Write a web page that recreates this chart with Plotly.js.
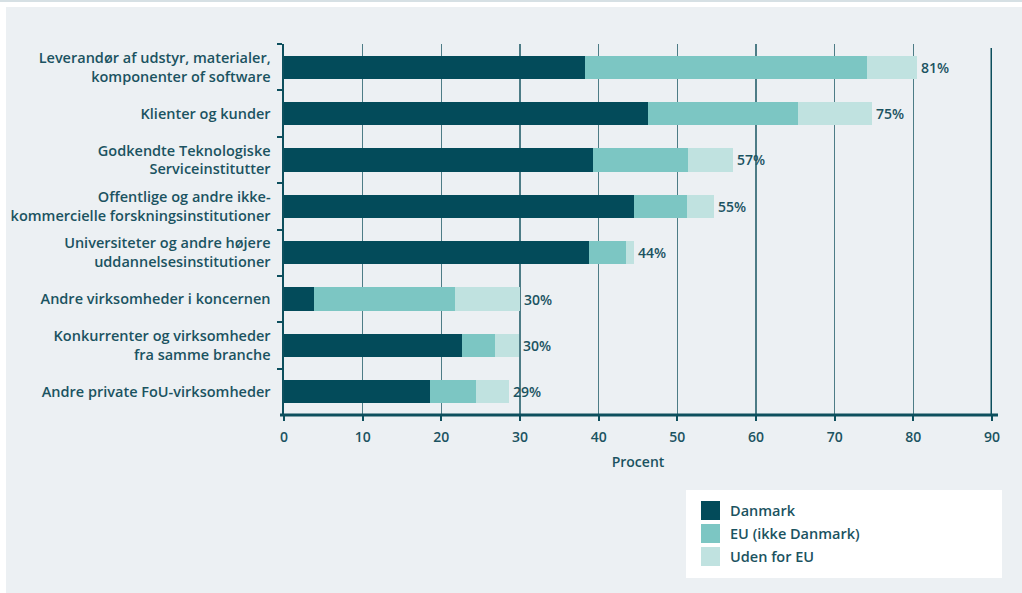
<!DOCTYPE html>
<html>
<head>
<meta charset="utf-8">
<script src="https://cdn.plot.ly/plotly-3.0.1.min.js"></script>
<style>
  html, body { margin: 0; padding: 0; background: #ffffff; width: 1022px; height: 593px; overflow: hidden; }
  #topline { position: absolute; left: 0; top: 0; width: 1022px; height: 2px; background: #d6e0e4; }
  #chart { position: absolute; left: 6px; top: 7px; width: 1016px; height: 586px; }
</style>
</head>
<body>
<div id="topline"></div>
<div id="chart"></div>
<script>
// ---- data ----
const categories = [
  "Leverandør af udstyr, materialer,<br>komponenter of software",
  "Klienter og kunder",
  "Godkendte Teknologiske<br>Serviceinstitutter",
  "Offentlige og andre ikke-<br>kommercielle forskningsinstitutioner",
  "Universiteter og andre højere<br>uddannelsesinstitutioner",
  "Andre virksomheder i koncernen",
  "Konkurrenter og virksomheder<br>fra samme branche",
  "Andre private FoU-virksomheder"
];
const seriesNames = ["Danmark", "EU (ikke Danmark)", "Uden for EU"];
const danmark = [38.2, 46.3, 39.3, 44.5, 38.8, 3.8, 22.6, 18.6];
const euIkkeDanmark = [35.9, 19.1, 12.0, 6.7, 4.7, 17.9, 4.2, 5.8];
const udenforEU = [6.4, 9.3, 5.8, 3.4, 1.0, 8.3, 3.1, 4.2];
const totalLabels = ["81%", "75%", "57%", "55%", "44%", "30%", "30%", "29%"];
const xTickVals = [0, 10, 20, 30, 40, 50, 60, 70, 80, 90];
const xAxisTitle = "Procent";

// ---- styling ----
const colors = ["#034b5a", "#7cc6c3", "#c0e2e0"];
const textColor = "#1b5361";
const lineColor = "#0d4f5d";
const fontFamily = "'Open Sans', Roboto, sans-serif";
const txtFont = { family: fontFamily, size: 14, color: textColor, weight: 600 };
const catFont = { family: fontFamily, size: 14.5, color: textColor, weight: 600 };

const W = 1016, H = 586;
const M = { l: 278, r: 30, t: 37, b: 178 };
const plotW = W - M.l - M.r, plotH = H - M.t - M.b;
const px = x => (x - M.l) / plotW;
const py = y => (H - M.b - y) / plotH;

const seriesVals = [danmark, euIkkeDanmark, udenforEU];
const traces = seriesVals.map((vals, i) => ({
  type: "bar",
  orientation: "h",
  name: seriesNames[i],
  y: categories,
  x: vals,
  marker: { color: colors[i], line: { width: 0 } },
  hoverinfo: "x+name",
  showlegend: false
}));

const totals = categories.map((_, i) => danmark[i] + euIkkeDanmark[i] + udenforEU[i]);

const shapes = [];
const annotations = [];

// total labels at bar ends
categories.forEach((c, i) => {
  annotations.push({
    xref: "x", yref: "y", x: totals[i], y: c,
    xanchor: "left", yanchor: "middle", xshift: 2,
    text: totalLabels[i], showarrow: false,
    font: txtFont
  });
});

// thick line at 90
shapes.push({
  type: "line", xref: "x", yref: "paper",
  x0: 90, x1: 90, y0: 0, y1: py(41),
  line: { color: lineColor, width: 3 }
});
// x axis line, extends a bit past plot area
shapes.push({
  type: "line", xref: "paper", yref: "paper",
  x0: px(274), x1: px(992), y0: 0, y1: 0,
  line: { color: lineColor, width: 3 }
});

// legend box
shapes.push({
  type: "rect", xref: "paper", yref: "paper",
  x0: px(680), x1: px(996), y0: py(483), y1: py(571),
  fillcolor: "#ffffff", line: { width: 0 }, layer: "below"
});
const legendTops = [494, 517, 540];
seriesNames.forEach((name, i) => {
  const top = legendTops[i];
  shapes.push({
    type: "rect", xref: "paper", yref: "paper",
    x0: px(695), x1: px(714), y0: py(top + 19), y1: py(top),
    fillcolor: colors[i], line: { width: 0 }
  });
  annotations.push({
    xref: "paper", yref: "paper",
    x: px(722), y: py(top + 9.5),
    xanchor: "left", yanchor: "middle",
    text: name, showarrow: false,
    font: catFont
  });
});

const layout = {
  width: W, height: H,
  margin: M,
  paper_bgcolor: "#ecf0f3",
  plot_bgcolor: "#ecf0f3",
  barmode: "stack",
  bargap: 0.5,
  showlegend: false,
  font: txtFont,
  xaxis: {
    range: [0, 90],
    tickvals: xTickVals,
    ticks: "outside", ticklen: 5, tickwidth: 2, tickcolor: lineColor,
    showline: false,
    showgrid: true, gridcolor: "#4d7c86", gridwidth: 1.5,
    zeroline: false,
    ticklabelstandoff: 4,
    tickfont: txtFont,
    title: { text: xAxisTitle, standoff: 12, font: txtFont },
    automargin: false,
    fixedrange: true
  },
  yaxis: {
    type: "category",
    autorange: "reversed",
    tickson: "boundaries",
    ticks: "outside", ticklen: 5, tickwidth: 2, tickcolor: lineColor,
    showline: true, linecolor: lineColor, linewidth: 2.5,
    showgrid: false, zeroline: false,
    ticklabelstandoff: 8,
    tickfont: catFont,
    automargin: false,
    fixedrange: true
  },
  shapes: shapes,
  annotations: annotations
};

Plotly.newPlot("chart", traces, layout, { displayModeBar: false, staticPlot: true });
</script>
</body>
</html>
